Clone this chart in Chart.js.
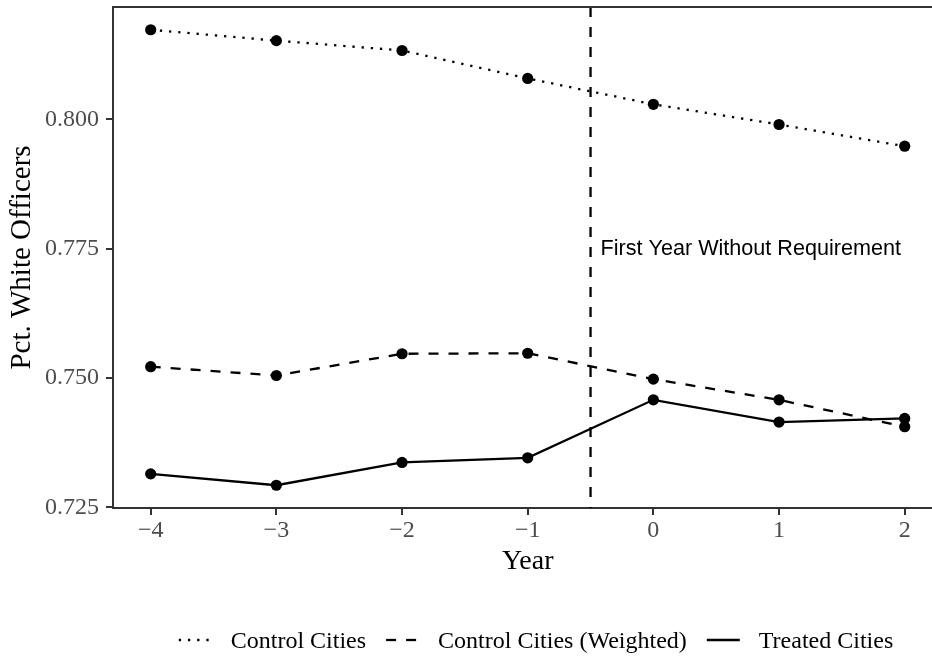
<!DOCTYPE html>
<html>
<head>
<meta charset="utf-8">
<script src="https://cdn.jsdelivr.net/npm/chart.js@4.4.0/dist/chart.umd.min.js"></script>
<style>
    html, body { margin: 0; padding: 0; background: #fff; overflow: hidden; }
    #wrap { width: 932px; height: 656px; overflow: hidden; }
</style>
</head>
<body>
<div id="wrap"><canvas id="chart" width="948" height="656"></canvas></div>
<script>
// data
const years = [-4, -3, -2, -1, 0, 1, 2];
const controlCities = [0.8173, 0.8152, 0.8133, 0.8079, 0.8029, 0.7990, 0.7948];
const controlWeighted = [0.7522, 0.7505, 0.7547, 0.7548, 0.7498, 0.7458, 0.7406];
const treatedCities = [0.7315, 0.7293, 0.7337, 0.7346, 0.7458, 0.7415, 0.7422];

const xTicks = [-4, -3, -2, -1, 0, 1, 2];
const yTicks = [0.725, 0.750, 0.775, 0.800];

const cutoffYear = -0.5;
const noteText = 'First Year Without Requirement';
const noteY = 0.775;

const SERIF = '"Liberation Serif", "Times New Roman", serif';
const SANS = '"Liberation Sans", Arial, sans-serif';
const AXIS_GREY = '#333333';

const toPoints = (vals) => vals.map((v, i) => ({ x: years[i], y: v }));

const lineStyle = {
    borderColor: '#000',
    borderWidth: 2.3,
    pointRadius: 5.6,
    pointHoverRadius: 5.6,
    pointBackgroundColor: '#000',
    pointBorderWidth: 0,
    tension: 0,
    fill: false
};

// vertical cut-off line, its label and the top frame line
const annotations = {
    id: 'annotations',
    beforeDatasetsDraw(chart) {
        const { ctx, chartArea, scales } = chart;
        const x = scales.x.getPixelForValue(cutoffYear);
        ctx.save();
        ctx.strokeStyle = '#000';
        ctx.lineWidth = 2.3;
        ctx.setLineDash([10, 10]);
        ctx.beginPath();
        ctx.moveTo(x, chartArea.top);
        ctx.lineTo(x, chartArea.bottom);
        ctx.stroke();
        ctx.setLineDash([]);

        ctx.fillStyle = '#000';
        ctx.font = '21.6px ' + SANS;
        ctx.textAlign = 'left';
        ctx.textBaseline = 'middle';
        ctx.fillText(noteText, x + 10, scales.y.getPixelForValue(noteY));

        ctx.strokeStyle = AXIS_GREY;
        ctx.lineWidth = 2;
        ctx.beginPath();
        ctx.moveTo(chartArea.left - 1, chartArea.top);
        ctx.lineTo(chartArea.right, chartArea.top);
        ctx.stroke();
        ctx.restore();
    }
};

// ggplot-style legend row under the plot
const bottomLegend = {
    id: 'bottomLegend',
    afterDraw(chart) {
        const ctx = chart.ctx;
        const keyLen = 33, keyGap = 19, itemGap = 20;
        ctx.save();
        ctx.font = '24px ' + SERIF;
        const items = chart.data.datasets.map(ds => ({
            label: ds.label,
            dash: ds.borderDash || [],
            width: ctx.measureText(ds.label).width
        }));
        const total = items.reduce((s, it) => s + keyLen + keyGap + it.width, 0) + itemGap * (items.length - 1);
        let x = 536 - total / 2;
        const lineY = chart.height - 16;
        const textY = chart.height - 8;
        items.forEach(it => {
            ctx.strokeStyle = '#000';
            ctx.lineWidth = 2.3;
            ctx.setLineDash(it.dash);
            ctx.beginPath();
            ctx.moveTo(x, lineY);
            ctx.lineTo(x + keyLen, lineY);
            ctx.stroke();
            ctx.setLineDash([]);
            ctx.fillStyle = '#000';
            ctx.textAlign = 'left';
            ctx.textBaseline = 'alphabetic';
            ctx.fillText(it.label, x + keyLen + keyGap, textY);
            x += keyLen + keyGap + it.width + itemGap;
        });
        ctx.restore();
    }
};

const ctx = document.getElementById('chart').getContext('2d');

new Chart(ctx, {
    type: 'line',
    data: {
        datasets: [
            { label: 'Control Cities', data: toPoints(controlCities), borderDash: [2.3, 6.9], ...lineStyle },
            { label: 'Control Cities (Weighted)', data: toPoints(controlWeighted), borderDash: [10, 10], ...lineStyle },
            { label: 'Treated Cities', data: toPoints(treatedCities), ...lineStyle }
        ]
    },
    options: {
        responsive: false,
        animation: false,
        events: [],
        layout: { padding: { left: 0, top: 7, right: 1, bottom: 76 } },
        scales: {
            x: {
                type: 'linear',
                min: -4.3,
                max: 2.3,
                afterBuildTicks: (scale) => { scale.ticks = xTicks.map(v => ({ value: v })); },
                afterFit: (scale) => {
                    scale.height = 72;
                    scale.paddingLeft = 0;
                    scale.paddingRight = 0;
                },
                ticks: {
                    color: '#4d4d4d',
                    font: { family: SERIF, size: 24 },
                    padding: 1,
                    maxRotation: 0,
                    callback: (v) => String(v).replace('-', '\u2212')
                },
                grid: { display: true, drawOnChartArea: false, drawTicks: true, tickLength: 7, color: AXIS_GREY, lineWidth: 2 },
                border: { display: true, color: AXIS_GREY, width: 2 },
                title: {
                    display: true,
                    text: 'Year',
                    color: '#000',
                    font: { family: SERIF, size: 28 },
                    padding: { top: 0, bottom: 2 }
                }
            },
            y: {
                min: 0.7249,
                max: 0.8217,
                afterBuildTicks: (scale) => { scale.ticks = yTicks.map(v => ({ value: v })); },
                afterFit: (scale) => {
                    scale.width = 113;
                    scale.paddingTop = 0;
                    scale.paddingBottom = 0;
                },
                ticks: {
                    color: '#4d4d4d',
                    font: { family: SERIF, size: 24 },
                    padding: 7,
                    callback: (v) => v.toFixed(3)
                },
                grid: { display: true, drawOnChartArea: false, drawTicks: true, tickLength: 7, color: AXIS_GREY, lineWidth: 2 },
                border: { display: true, color: AXIS_GREY, width: 2 },
                title: {
                    display: true,
                    text: 'Pct. White Officers',
                    color: '#000',
                    font: { family: SERIF, size: 29 },
                    padding: { top: 5, bottom: 0 }
                }
            }
        },
        plugins: {
            legend: { display: false },
            tooltip: { enabled: false }
        }
    },
    plugins: [annotations, bottomLegend]
});
</script>
</body>
</html>
